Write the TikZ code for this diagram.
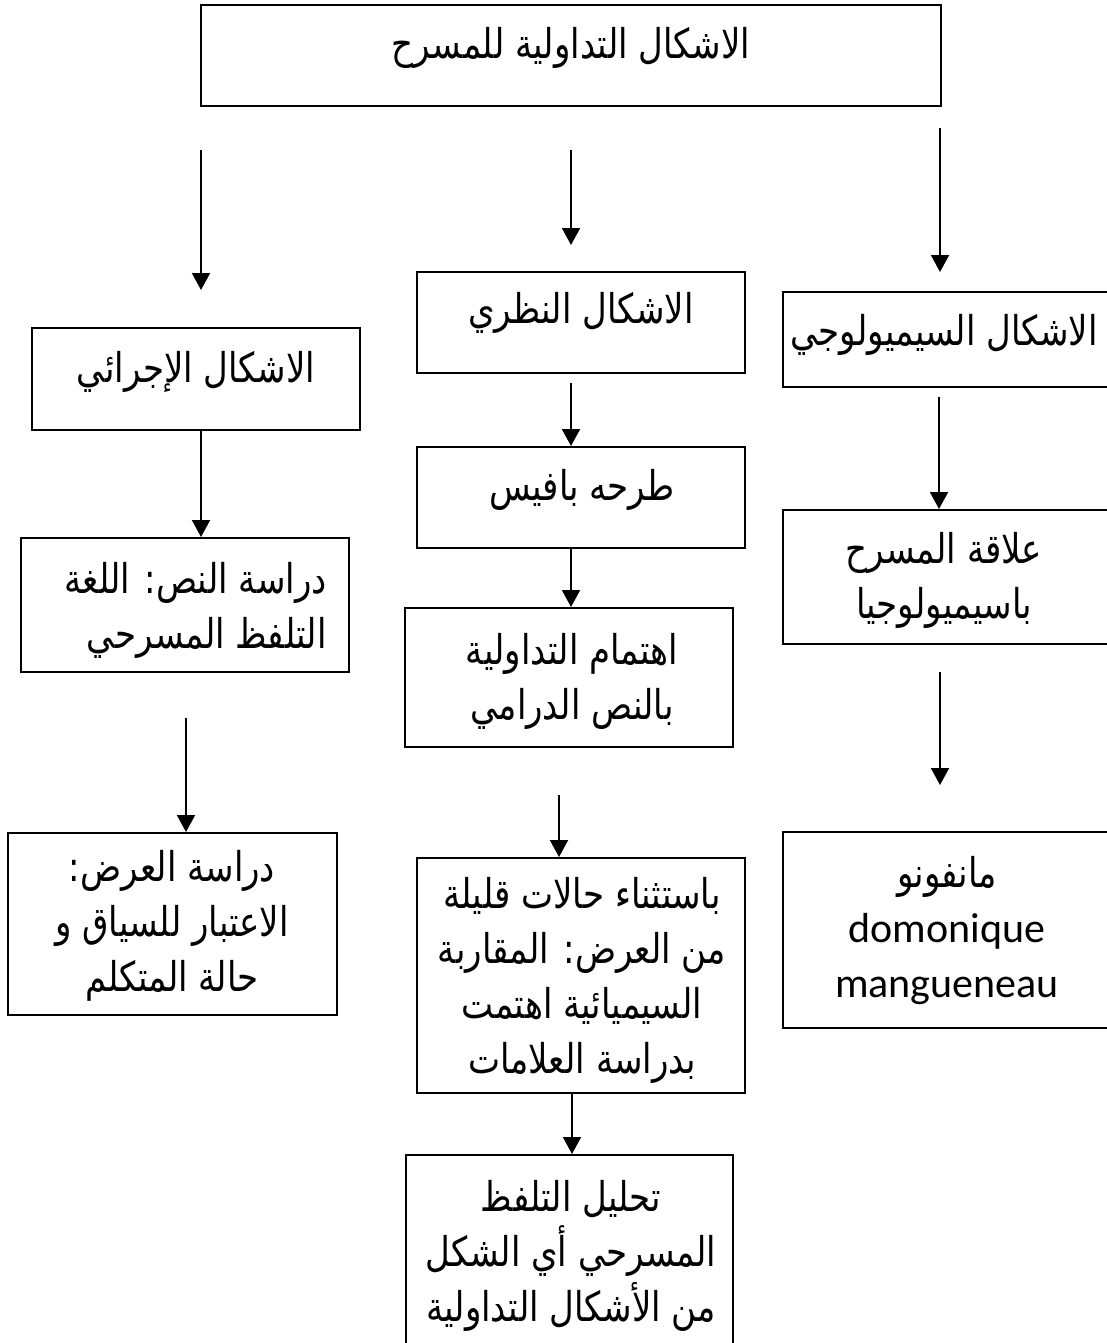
\documentclass[tikz,border=0pt]{standalone}
\usepackage{fontspec}
\TeXXeTstate=1
\newfontfamily\arabicfont[Script=Arabic, FakeStretch=0.83]{DejaVu Sans}
\newfontfamily\latinfont{Carlito}
\usetikzlibrary{arrows.meta}
\newcommand\artx[1]{\beginR #1\endR}
\begin{document}
\begin{tikzpicture}[x=0.5pt,y=-0.5pt,
  box/.style={draw=black, line width=1pt, rectangle, inner sep=0pt},
  txt/.style={font=\arabicfont\fontsize{20.5}{27.5}\selectfont, align=center, inner sep=0pt},
  arr/.style={line width=1pt, -{Triangle[length=8.5pt,width=9pt]}}]
\useasboundingbox (0,0) rectangle (1107,1343);
\clip (0,0) rectangle (1107,1343);
% boxes
\node[box, minimum width=370pt, minimum height=50.5pt] (T) at (571,55.5) {};
\node[box, minimum width=164pt, minimum height=50.5pt] (M1) at (581,322.5) {};
\node[box, minimum width=164pt, minimum height=50.5pt] (M2) at (581,497.5) {};
\node[box, minimum width=164pt, minimum height=69.5pt] (M3) at (569,677.5) {};
\node[box, minimum width=164pt, minimum height=117.5pt] (M4) at (581,975.5) {};
\node[box, minimum width=163.5pt, minimum height=105pt] (M5) at (569.5,1260) {};
\node[box, minimum width=164pt, minimum height=51pt] (L1) at (196,379) {};
\node[box, minimum width=164pt, minimum height=67pt] (L2) at (185,605) {};
\node[box, minimum width=164.5pt, minimum height=91pt] (L3) at (172.5,924) {};
\node[box, minimum width=171pt, minimum height=47.5pt] (R1) at (954,339.5) {};
\node[box, minimum width=171pt, minimum height=67pt] (R2) at (954,577) {};
\node[box, minimum width=171pt, minimum height=98pt] (R3) at (954,930) {};
% texts
\node[txt] (tT) at (571,48) {\artx{الاشكال التداولية للمسرح}};
\node[txt] (tM1) at (581,313) {\artx{الاشكال النظري}};
\node[txt] (tM2) at (582,490) {\artx{طرحه بافيس}};
\node[txt] (tM3) at (572,681) {\artx{اهتمام التداولية}\\\artx{بالنص الدرامي}};
\node[txt] (tM4) at (582,980) {\artx{باستثناء حالات قليلة}\\\artx{من العرض: المقاربة}\\\artx{السيميائية اهتمت}\\\artx{بدراسة العلامات}};
\node[txt] (tM5) at (571,1256) {\artx{تحليل التلفظ}\\\artx{المسرحي أي الشكل}\\\artx{من الأشكال التداولية}};
\node[txt] (tL1) at (196,372) {\artx{الاشكال الإجرائي}};
\node[txt, align=right, anchor=east] (tL2) at (327,610) {\artx{دراسة النص: اللغة}\\\artx{التلفظ المسرحي}};
\node[txt] (tL3) at (172,926) {\artx{دراسة العرض:}\\\artx{الاعتبار للسياق و}\\\artx{حالة المتكلم}};
\node[txt] (tR1) at (944,335) {\artx{الاشكال السيميولوجي}};
\node[txt] (tR2) at (944,580) {\artx{علاقة المسرح}\\\artx{باسيميولوجيا}};
\node[txt] (tR3) at (947,931) {\artx{مانفونو}\\{\latinfont\fontsize{21}{29.5}\selectfont domonique}\\{\latinfont\fontsize{21}{29.5}\selectfont mangueneau}};
% arrow helpers
\coordinate (aL1s) at (201,150); \coordinate (aL1e) at (201,290);
\coordinate (aM1s) at (571,150); \coordinate (aM1e) at (571,245);
\coordinate (aR1s) at (940,128); \coordinate (aR1e) at (940,272);
\coordinate (xL2) at (201,0);
\coordinate (aL3s) at (186,718);
\coordinate (aM2s) at (571,383);
\coordinate (xM3) at (571,0);
\coordinate (aM4s) at (559,795);
\coordinate (xM5) at (572,0);
\coordinate (aR2s) at (939,397);
\coordinate (aR3s) at (940,672); \coordinate (aR3e) at (940,785);
% arrows
\draw[arr] (aL1s) -- (aL1e);
\draw[arr] (aM1s) -- (aM1e);
\draw[arr] (aR1s) -- (aR1e);
\draw[arr] (L1.south -| xL2) -- (L2.north -| xL2);
\draw[arr] (aL3s) -- (L3.north -| aL3s);
\draw[arr] (aM2s) -- (M2.north -| aM2s);
\draw[arr] (M2.south -| xM3) -- (M3.north -| xM3);
\draw[arr] (aM4s) -- (M4.north -| aM4s);
\draw[arr] (M4.south -| xM5) -- (M5.north -| xM5);
\draw[arr] (aR2s) -- (R2.north -| aR2s);
\draw[arr] (aR3s) -- (aR3e);
\end{tikzpicture}
\end{document}
